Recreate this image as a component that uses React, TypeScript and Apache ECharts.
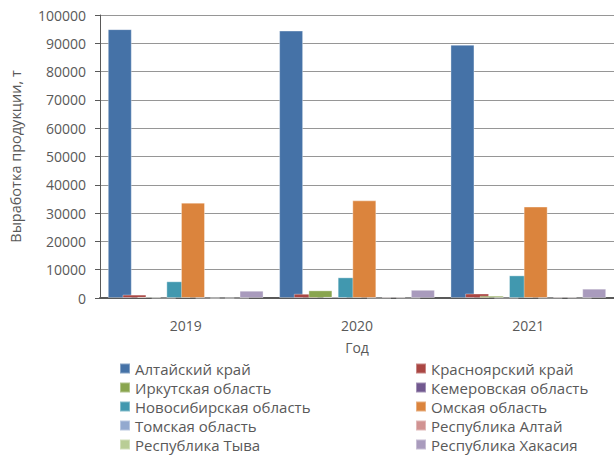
import React, { useEffect, useRef } from "react";
import * as echarts from "echarts";

const years = ["2019", "2020", "2021"];
const seriesNames = [
  "Алтайский край",
  "Красноярский край",
  "Иркутская область",
  "Кемеровская область",
  "Новосибирская область",
  "Омская область",
  "Томская область",
  "Республика Алтай",
  "Республика Тыва",
  "Республика Хакасия",
];
const altai = [95000, 94500, 89500];
const krasnoyarsk = [1200, 1500, 1600];
const irkutsk = [400, 2700, 800];
const kemerovo = [0, 400, 0];
const novosibirsk = [5900, 7300, 8000];
const omsk = [33700, 34500, 32300];
const tomsk = [0, 0, 0];
const repAltai = [0, 400, 400];
const tyva = [0, 0, 0];
const khakasia = [2600, 2900, 3300];
const allValues = [altai, krasnoyarsk, irkutsk, kemerovo, novosibirsk, omsk, tomsk, repAltai, tyva, khakasia];
const colors = [
  "#4572a7", "#aa4643", "#89a54e", "#71588f", "#4198af",
  "#db843d", "#93a9cf", "#d19392", "#b9cd96", "#a99bbd",
];

export default function App() {
  const ref = useRef<HTMLDivElement>(null);
  useEffect(() => {
    document.body.style.margin = "0";
    const chart = echarts.init(ref.current!, null, { renderer: "svg" });
    const font = "Open Sans";
    const legendText = { fontFamily: font, fontSize: 15, color: "#595959", lineHeight: 19 };
    const legendBase = {
      orient: "vertical",
      top: 359,
      height: 96,
      padding: 0,
      itemWidth: 10,
      itemHeight: 10,
      itemGap: 0,
      icon: "rect",
      textStyle: legendText,
      selectedMode: false,
    };
    chart.setOption({
      animation: false,
      color: colors,
      textStyle: { fontFamily: font },
      grid: { left: 100, right: 0, top: 15, bottom: 157, containLabel: false },
      legend: [
        {
          ...legendBase,
          data: [seriesNames[0], seriesNames[2], seriesNames[4], seriesNames[6], seriesNames[8]],
          left: 119,
        },
        {
          ...legendBase,
          data: [seriesNames[1], seriesNames[3], seriesNames[5], seriesNames[7], seriesNames[9]],
          left: 415,
        },
      ],
      xAxis: {
        type: "category",
        data: years,
        name: "Год",
        nameLocation: "middle",
        nameGap: 42,
        nameTextStyle: { fontFamily: font, fontSize: 14, color: "#595959" },
        axisLine: { lineStyle: { color: "#595959", width: 2 } },
        axisTick: { show: false },
        axisLabel: { fontFamily: font, fontSize: 14, color: "#595959", margin: 20 },
      },
      yAxis: {
        type: "value",
        min: 0,
        max: 100000,
        interval: 10000,
        name: "Выработка продукции, т",
        nameLocation: "middle",
        nameGap: 77,
        nameTextStyle: { fontFamily: font, fontSize: 14.5, color: "#595959" },
        axisLine: { show: true, lineStyle: { color: "#595959", width: 1 } },
        axisTick: { show: true, inside: false, length: 5, lineStyle: { color: "#595959" } },
        axisLabel: {
          fontFamily: font,
          fontSize: 14,
          color: "#595959",
          margin: 14,
          formatter: (v: number) => String(v),
        },
        splitLine: { lineStyle: { color: "#969696", width: 1 } },
      },
      series: seriesNames.map((name, i) => ({
        name,
        type: "bar",
        data: allValues[i],
        barWidth: 24,
        barGap: "-39%",
        itemStyle: { color: colors[i], borderColor: "rgba(255,255,255,0.35)", borderWidth: 1 },
      })),
    });
    return () => chart.dispose();
  }, []);
  return <div ref={ref} style={{ width: 614, height: 455 }} />;
}
